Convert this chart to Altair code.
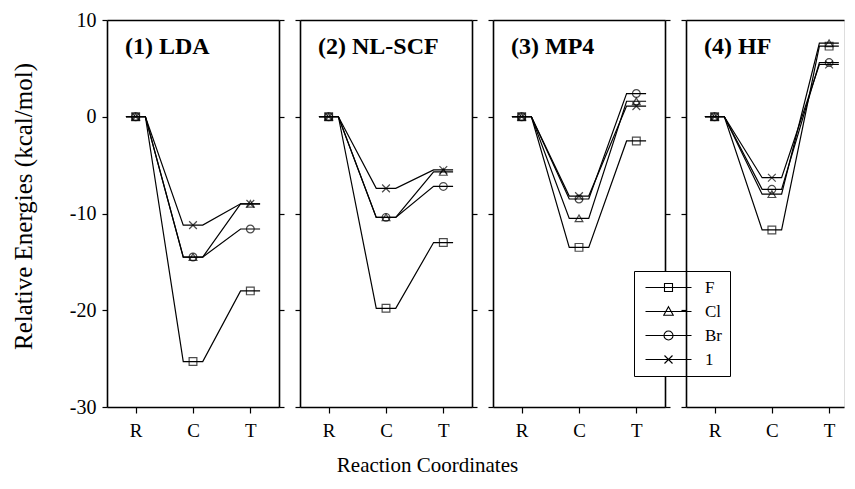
import altair as alt
import pandas as pd

STAGES = ["R", "C", "T"]
SPECIES = ["F", "Cl", "Br", "I"]
LEGEND_LABELS = ["F", "Cl", "Br", "1"]
METHODS = ["(1) LDA", "(2) NL-SCF", "(3) MP4", "(4) HF"]

# energies (kcal/mol) at R, C, T
LDA_F = [0, -25.3, -18.0]
LDA_CL = [0, -14.5, -9.0]
LDA_BR = [0, -14.5, -11.6]
LDA_I = [0, -11.2, -9.0]

NLSCF_F = [0, -19.8, -13.0]
NLSCF_CL = [0, -10.4, -5.7]
NLSCF_BR = [0, -10.4, -7.2]
NLSCF_I = [0, -7.4, -5.5]

MP4_F = [0, -13.5, -2.5]
MP4_CL = [0, -10.5, 1.6]
MP4_BR = [0, -8.5, 2.4]
MP4_I = [0, -8.2, 1.1]

HF_F = [0, -11.7, 7.3]
HF_CL = [0, -8.0, 7.6]
HF_BR = [0, -7.5, 5.6]
HF_I = [0, -6.3, 5.4]

DATA = {
    "(1) LDA": [LDA_F, LDA_CL, LDA_BR, LDA_I],
    "(2) NL-SCF": [NLSCF_F, NLSCF_CL, NLSCF_BR, NLSCF_I],
    "(3) MP4": [MP4_F, MP4_CL, MP4_BR, MP4_I],
    "(4) HF": [HF_F, HF_CL, HF_BR, HF_I],
}

HALF = 0.17  # half-width of each energy level segment (style)
FONT = "Liberation Serif"
SHAPES = ["square", "triangle-up", "circle", "M-1,-1L1,1M-1,1L1,-1"]
LEG_PATHS = [
    "M-4.6,0H4.6M-0.8,-0.8H0.8V0.8H-0.8Z",
    "M-4.6,0H4.6M0,-0.95L0.95,0.75H-0.95Z",
    "M-4.6,0H4.6M-0.9,0A0.9,0.9 0 1,0 0.9,0A0.9,0.9 0 1,0 -0.9,0",
    "M-4.6,0H4.6M-0.8,-0.8L0.8,0.8M-0.8,0.8L0.8,-0.8",
]

H = 387


def panel(method, idx, width, xmax, right_border=True, legend=False):
    seg_rows, pt_rows = [], []
    for sp, vals in zip(SPECIES, DATA[method]):
        for i, v in enumerate(vals):
            seg_rows.append({"species": sp, "x": i - HALF, "y": v, "o": 2 * i})
            seg_rows.append({"species": sp, "x": i + HALF, "y": v, "o": 2 * i + 1})
            pt_rows.append({"species": sp, "x": i, "y": v})
    seg = pd.DataFrame(seg_rows)
    pts = pd.DataFrame(pt_rows)

    xscale = alt.Scale(domain=[-0.5, xmax], nice=False, zero=False)
    yscale = alt.Scale(domain=[-30, 10], nice=False, zero=False)

    first = idx == 0
    yaxis_left = alt.Axis(
        values=[-30, -20, -10, 0, 10], labels=first, grid=False,
        labelExpr="datum.value < 0 ? '-' + abs(datum.value) : '' + datum.value",
        tickSize=5, tickWidth=1.2, domainWidth=1.6, domainColor="black", tickColor="black",
        labelFont=FONT, labelFontSize=20, labelPadding=6, labelColor="black",
        title="Relative Energies (kcal/mol)" if first else None,
        titleFont=FONT, titleFontSize=25, titleFontWeight="normal", titleColor="black",
        titleX=-84, titleY=186, titleAngle=-90, titleAlign="center", titleBaseline="middle",
    )
    xaxis_bottom = alt.Axis(
        values=[0, 1, 2], labelExpr="['R','C','T'][datum.value]", grid=False,
        tickSize=6, tickWidth=1.2, domainWidth=1.6, domainColor="black", tickColor="black",
        labelFont=FONT, labelFontSize=19, labelPadding=8, labelColor="black", title=None,
    )
    lines = alt.Chart(seg).mark_line(color="black", strokeWidth=1.2).encode(
        x=alt.X("x:Q", scale=xscale, axis=xaxis_bottom),
        y=alt.Y("y:Q", scale=yscale, axis=yaxis_left),
        detail="species:N",
        order="o:Q",
    )
    yaxis_right = alt.Axis(
        orient="right", values=[-30, -20, -10, 0, 10], labels=False, grid=False,
        tickSize=5, tickWidth=1.2, domainWidth=1.6, domainColor="black", tickColor="black",
        title=None, ticks=right_border, domain=right_border,
    )
    xaxis_top = alt.Axis(
        orient="top", labels=False, ticks=False, grid=False, domainWidth=1.6,
        domainColor="black", title=None,
    )
    points = alt.Chart(pts).mark_point(
        filled=False, color="black", size=60, strokeWidth=1.2
    ).encode(
        x=alt.X("x:Q", scale=xscale, axis=xaxis_top),
        y=alt.Y("y:Q", scale=yscale, axis=yaxis_right),
        shape=alt.Shape("species:N", scale=alt.Scale(domain=SPECIES, range=SHAPES), legend=None),
    )
    label = alt.Chart(pd.DataFrame({"t": [method]})).mark_text(
        font=FONT, fontSize=24, fontWeight="bold", align="left", baseline="middle", color="black"
    ).encode(text="t:N", x=alt.value(18), y=alt.value(27))

    layers = [lines, points, label]
    if legend:
        leg = alt.Chart(pd.DataFrame({"sp": SPECIES})).mark_point(
            filled=False, color="black", opacity=0
        ).encode(
            x=alt.value(0), y=alt.value(0),
            shape=alt.Shape(
                "sp:N",
                scale=alt.Scale(domain=SPECIES, range=LEG_PATHS),
                legend=alt.Legend(
                    orient="none", legendX=141, legendY=251, title=None,
                    padding=8, strokeColor="black", fillColor="white",
                    symbolSize=100, symbolStrokeWidth=1.1, symbolStrokeColor="black",
                    symbolOpacity=1, symbolOffset=18, labelOffset=28,
                    labelFont=FONT, labelFontSize=17, labelColor="black",
                    rowPadding=6,
                    labelExpr="datum.label == 'I' ? '1' : datum.label",
                ),
            ),
        )
        layers.append(leg)
    ch = alt.layer(*layers).resolve_axis(x="independent", y="independent")
    if legend:
        ch = ch.resolve_scale(shape="independent")
    return ch.properties(width=width, height=H)


p1 = panel(METHODS[0], 0, 172, 2.5)
p2 = panel(METHODS[1], 1, 172, 2.5)
p3 = panel(METHODS[2], 2, 172, 2.5, legend=True)
p4 = panel(METHODS[3], 3, 158, 2.26, right_border=False)

chart = alt.hconcat(p1, p2, p3, p4, spacing=21, bounds="flush").resolve_scale(shape="independent").properties(
    padding={"left": 2, "top": 1, "right": 0, "bottom": 0},
    title=alt.TitleParams(
        "Reaction Coordinates", orient="bottom", anchor="middle", font=FONT,
        fontSize=21, fontWeight="normal", color="black", offset=14,
    ),
).configure_view(stroke=None).configure_legend(strokeWidth=1.8).configure(background="white")

chart.save("out.html", embed_options={"renderer": "svg", "actions": False})
